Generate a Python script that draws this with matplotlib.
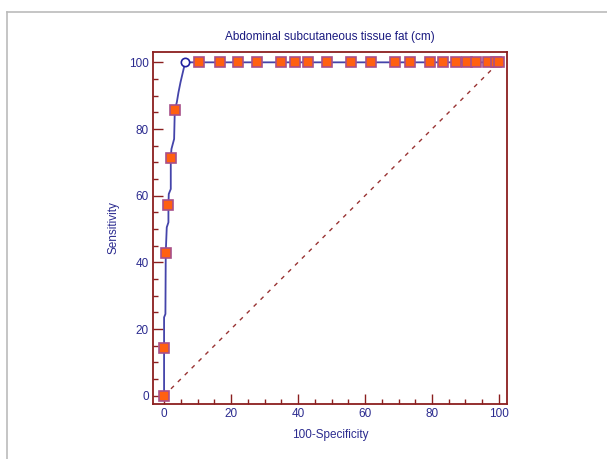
import numpy as np
import matplotlib
matplotlib.use('Agg')
import matplotlib.pyplot as plt
from matplotlib.lines import Line2D

plt.rcParams['font.family'] = ['Liberation Sans', 'DejaVu Sans']

# ROC curve vertices (100-specificity, sensitivity)
roc_x = [0, 0, 0, 0.4, 0.5, 0.8, 1.3, 1.3, 1.4, 2.0, 2.0, 2.2, 3.0, 3.2,
         3.8, 4.3, 4.9, 5.6, 6.3,
         10.5, 16.8, 22.0, 27.8, 34.9, 39.2, 43.0, 48.6, 55.7, 61.7, 68.9,
         73.4, 79.4, 83.2, 87.2, 90.4, 93.2, 96.6, 99.1, 100]
roc_y = [0, 14.3, 23.5, 24.5, 42.9, 50.5, 52.0, 57.1, 60.5, 62.0, 71.4, 74.0, 77.0, 85.7,
         88.0, 91.0, 94.0, 97.0, 100,
         100, 100, 100, 100, 100, 100, 100, 100, 100, 100, 100,
         100, 100, 100, 100, 100, 100, 100, 100, 100]

# criterion points shown as markers
pt_x = [0, 0, 0.5, 1.3, 2.0, 3.2,
        10.5, 16.8, 22.0, 27.8, 34.9, 39.2, 43.0, 48.6, 55.7, 61.7, 68.9,
        73.4, 79.4, 83.2, 87.2, 90.4, 93.2, 96.6, 99.1, 100]
pt_y = [0, 14.3, 42.9, 57.1, 71.4, 85.7,
        100, 100, 100, 100, 100, 100, 100, 100, 100, 100, 100,
        100, 100, 100, 100, 100, 100, 100, 100, 100]

# optimal criterion
opt_x = [6.3]
opt_y = [100]

maroon = '#8B1F1F'
navy = '#2B2B8F'

fig = plt.figure(figsize=(6.07, 4.59), dpi=100)
ax = fig.add_axes([0.2521, 0.1198, 0.5832, 0.7669])

ax.plot([0, 100], [0, 100], ls=(0, (3, 4)), color='#993333', lw=1.0)
ax.plot(roc_x, roc_y, color='#4444AA', lw=1.3, zorder=3)
ax.plot(pt_x, pt_y, ls='none', marker='s', ms=6.6, mfc='#FF6010',
        mec='#A8508A', mew=1.2, zorder=4)
ax.plot(opt_x, opt_y, ls='none', marker='o', ms=6, mfc='white',
        mec='#2020A0', mew=1.2, zorder=5)

ax.set_xlim(-3.3, 102.4)
ax.set_ylim(-2.5, 103.1)
ax.set_xticks(np.arange(0, 101, 20))
ax.set_yticks(np.arange(0, 101, 20))
ax.set_xticks(np.arange(0, 101, 5), minor=True)
ax.set_yticks(np.arange(0, 101, 5), minor=True)
ax.tick_params(which='both', direction='in', color=maroon, labelcolor=navy,
               labelsize=8.5, width=1)
ax.tick_params(which='major', length=7, pad=3)
ax.tick_params(which='minor', length=3.5)
for s in ax.spines.values():
    s.set_color(maroon)
    s.set_linewidth(1.3)

ax.set_title('Abdominal subcutaneous tissue fat (cm)', fontsize=8.5,
             color='#1A1A80', pad=9)
ax.set_xlabel('100-Specificity', fontsize=8.5, color=navy, labelpad=6)
ax.set_ylabel('Sensitivity', fontsize=8.5, color=navy, labelpad=7)

# outer panel border
fig.add_artist(Line2D([0.0115, 1.0], [0.974, 0.974], color='#BBBBBB', lw=1.2))
fig.add_artist(Line2D([0.0115, 0.0115], [0.0, 0.974], color='#BBBBBB', lw=1.2))

fig.savefig('out.png', dpi=100)
